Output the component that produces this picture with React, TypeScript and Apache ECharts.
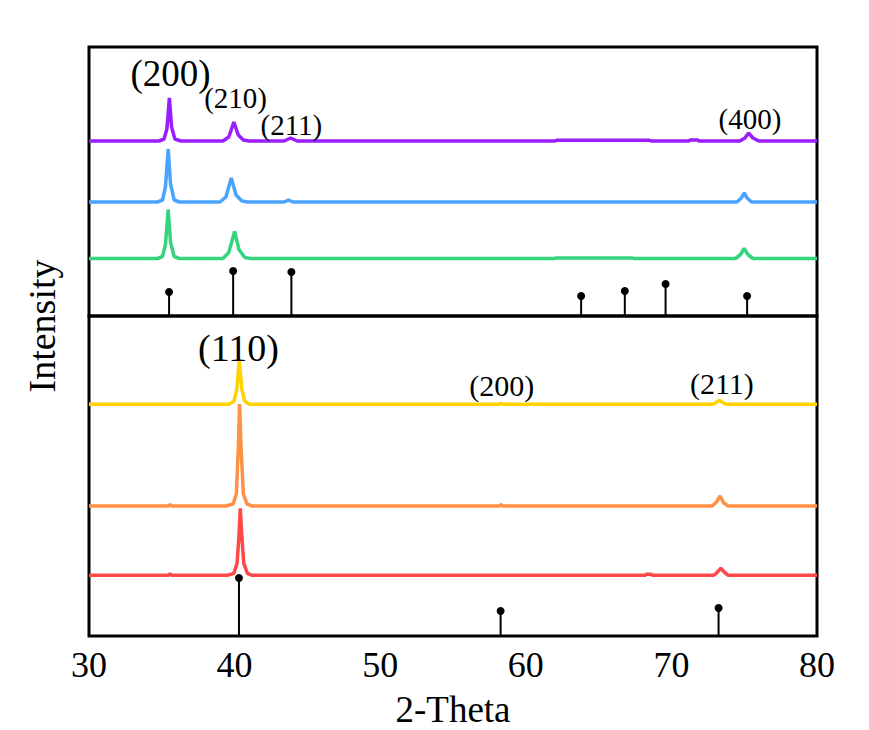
import React, { useEffect, useRef } from "react";
import * as echarts from "echarts";

// ---- Data (2-Theta, intensity above each pattern's baseline) ----
const topOffsets = [175, 114, 57.5]; // purple, blue, green baselines (top panel)
const bottomOffsets = [231.7, 130, 60.7]; // yellow, orange, red baselines (bottom panel)

const purple: number[][] = [
  [30, 0], [34.8, 0], [35.15, 2], [35.35, 12], [35.52, 43], [35.67, 14], [35.9, 2], [36.3, 0],
  [39.2, 0], [39.6, 4], [39.95, 19], [40.25, 6], [40.6, 1], [41.0, 0],
  [43.4, 0], [43.85, 3], [44.3, 0],
  [62.0, 0], [62.1, 0.7], [68.5, 0.7], [68.6, 0], [71.2, 0], [71.3, 1], [71.8, 1], [71.9, 0],
  [74.7, 0], [75.05, 3], [75.3, 8], [75.6, 3], [76.0, 0], [80, 0],
];
const blue: number[][] = [
  [30, 0], [34.7, 0], [35.05, 2], [35.25, 15], [35.44, 53], [35.6, 18], [35.85, 2], [36.2, 0],
  [39.0, 0], [39.4, 5], [39.77, 24], [40.1, 7], [40.5, 1], [40.9, 0],
  [43.4, 0], [43.7, 2], [44.0, 0],
  [74.5, 0], [74.8, 4], [75.0, 9], [75.2, 4], [75.5, 0], [80, 0],
];
const green: number[][] = [
  [30, 0], [34.7, 0], [35.05, 2], [35.25, 14], [35.44, 49], [35.6, 16], [35.85, 2], [36.2, 0],
  [39.2, 0], [39.6, 6], [40.0, 27], [40.3, 9], [40.7, 1], [41.1, 0],
  [62.0, 0], [62.1, 0.6], [67.3, 0.6], [67.4, 0],
  [74.4, 0], [74.75, 4], [75.0, 10], [75.25, 4], [75.6, 0], [80, 0],
];
const yellow: number[][] = [
  [30, 0], [39.6, 0], [39.95, 3], [40.15, 15], [40.32, 44], [40.5, 15], [40.7, 3], [41.0, 0],
  [58.2, 0], [58.3, 1], [58.4, 0],
  [72.8, 0], [73.1, 2], [73.3, 4], [73.5, 2], [73.8, 0], [80, 0],
];
const orange: number[][] = [
  [30, 0], [35.45, 0], [35.57, 1.5], [35.7, 0], [39.4, 0], [39.9, 2], [40.12, 12], [40.26, 60],
  [40.34, 102], [40.44, 60], [40.6, 12], [40.85, 2], [41.2, 0],
  [58.2, 0], [58.3, 1.5], [58.4, 0],
  [72.8, 0], [73.1, 4], [73.34, 10], [73.6, 3], [73.9, 0], [80, 0],
];
const red: number[][] = [
  [30, 0], [35.45, 0], [35.57, 1.5], [35.7, 0], [39.5, 0], [39.95, 2], [40.17, 12], [40.3, 40],
  [40.39, 67], [40.49, 40], [40.63, 12], [40.88, 2], [41.2, 0],
  [68.2, 0], [68.3, 1], [68.6, 1], [68.7, 0],
  [72.9, 0], [73.15, 3], [73.4, 7], [73.65, 3], [73.9, 0], [80, 0],
];

// Reference stick patterns
const topSticks: number[][] = [
  [35.5, 24], [39.9, 45], [43.9, 44], [63.8, 20], [66.8, 25], [69.6, 32], [75.2, 20],
];
const bottomSticks: number[][] = [[40.3, 58], [58.27, 25], [73.24, 28]];

// Peak annotations [x, y, text]
const topLabels: [number, number, string][] = [
  [35.6, 243, "(200)"], [40.07, 218, "(210)"], [43.9, 191, "(211)"], [75.4, 197, "(400)"],
];
const topLabelSizes = [37, 29, 29, 29];
const bottomLabels: [number, number, string][] = [
  [40.27, 288, "(110)"], [58.35, 251, "(200)"], [73.47, 253, "(211)"],
];
const bottomLabelSizes = [38, 30, 30];

const xTicks = [30, 40, 50, 60, 70, 80];

const FONT = "'Liberation Serif', 'Times New Roman', serif";

function shift(data: number[][], off: number) {
  return data.map(([x, y]) => [x, y + off]);
}

export default function App() {
  const ref = useRef<HTMLDivElement>(null);
  useEffect(() => {
    if (!ref.current) return;
    const chart = echarts.init(ref.current, undefined, { renderer: "svg" });

    const lineSeries = (data: number[][], color: string, idx: number) => ({
      type: "line",
      data,
      xAxisIndex: idx,
      yAxisIndex: idx,
      showSymbol: false,
      symbol: "none",
      smooth: false,
      lineStyle: { color, width: 3.5 },
      z: 3,
    });
    const stickBar = (data: number[][], idx: number) => ({
      type: "bar",
      data,
      xAxisIndex: idx,
      yAxisIndex: idx,
      barWidth: 2,
      itemStyle: { color: "#000" },
      z: 2,
    });
    const stickDot = (data: number[][], idx: number) => ({
      type: "scatter",
      data,
      xAxisIndex: idx,
      yAxisIndex: idx,
      symbolSize: 8,
      itemStyle: { color: "#000", opacity: 1 },
      z: 4,
    });
    const labelSeries = (labels: [number, number, string][], sizes: number[], idx: number) => ({
      type: "scatter",
      xAxisIndex: idx,
      yAxisIndex: idx,
      symbolSize: 1,
      itemStyle: { color: "rgba(0,0,0,0)", opacity: 1 },
      data: labels.map(([x, y, t], i) => ({
        value: [x, y],
        label: {
          show: true,
          position: "inside",
          formatter: t,
          fontSize: sizes[i],
          fontFamily: FONT,
          color: "#000",
          opacity: 1,
          textBorderWidth: 0,
          textBorderColor: "transparent",
        },
      })),
      z: 5,
    });

    const xAxisBase = {
      type: "value",
      min: 30,
      max: 80,
      interval: 10,
      splitLine: { show: false },
      axisTick: { show: false },
      axisLine: { show: false },
    };

    chart.setOption({
      animation: false,
      backgroundColor: "#fff",
      grid: [
        { left: 89, right: 52, top: 47, height: 269, show: true, borderColor: "#000", borderWidth: 3, backgroundColor: "transparent" },
        { left: 89, right: 52, top: 316, height: 320, show: true, borderColor: "#000", borderWidth: 3, backgroundColor: "transparent" },
      ],
      xAxis: [
        { ...xAxisBase, gridIndex: 0, axisLabel: { show: false } },
        {
          ...xAxisBase,
          gridIndex: 1,
          axisLabel: {
            show: true,
            fontSize: 36,
            fontFamily: FONT,
            color: "#000",
            margin: 11,
            formatter: (v: number) => (xTicks.includes(v) ? String(v) : ""),
          },
          name: "2-Theta",
          nameLocation: "middle",
          nameGap: 55,
          nameTextStyle: { fontSize: 37, fontFamily: FONT, color: "#000" },
        },
      ],
      yAxis: [
        { type: "value", gridIndex: 0, min: 0, max: 269, show: false, splitLine: { show: false } },
        { type: "value", gridIndex: 1, min: 0, max: 320, show: false, splitLine: { show: false } },
      ],
      graphic: [
        {
          type: "text",
          x: 42,
          y: 326,
          rotation: Math.PI / 2,
          style: {
            text: "Intensity",
            fontSize: 38,
            fontFamily: FONT,
            fill: "#000",
            align: "center",
            verticalAlign: "middle",
          },
        },
      ],
      series: [
        lineSeries(shift(purple, topOffsets[0]), "#9A1EFF", 0),
        lineSeries(shift(blue, topOffsets[1]), "#4AA4FF", 0),
        lineSeries(shift(green, topOffsets[2]), "#36D47E", 0),
        stickBar(topSticks, 0),
        stickDot(topSticks, 0),
        labelSeries(topLabels, topLabelSizes, 0),
        lineSeries(shift(yellow, bottomOffsets[0]), "#FFD200", 1),
        lineSeries(shift(orange, bottomOffsets[1]), "#FF9045", 1),
        lineSeries(shift(red, bottomOffsets[2]), "#FF4848", 1),
        stickBar(bottomSticks, 1),
        stickDot(bottomSticks, 1),
        labelSeries(bottomLabels, bottomLabelSizes, 1),
      ],
    });
    return () => chart.dispose();
  }, []);
  return (
    <div
      ref={ref}
      style={{ position: "fixed", left: 0, top: 0, width: 869, height: 730, background: "#fff" }}
    />
  );
}
